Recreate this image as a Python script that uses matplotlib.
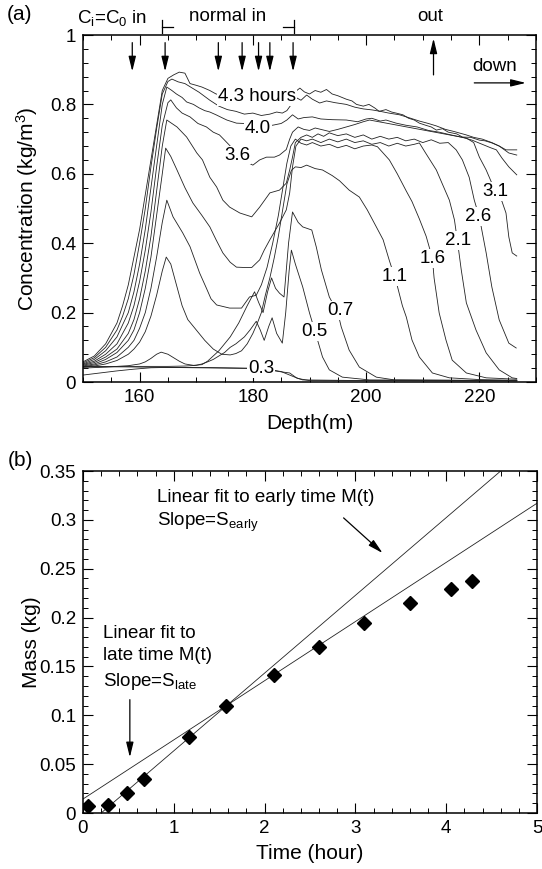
import numpy as np
import matplotlib
matplotlib.use("Agg")
import matplotlib.pyplot as plt
from matplotlib.ticker import MultipleLocator, FuncFormatter

plt.rcParams['font.family'] = ['Liberation Sans', 'DejaVu Sans']
plt.rcParams['mathtext.fontset'] = 'custom'
plt.rcParams['mathtext.rm'] = 'Liberation Sans'
plt.rcParams['mathtext.it'] = 'Liberation Sans:italic'

# ---------------- Panel (a): concentration profiles (depth, conc) ----------------
prof_43 = [(150,0.058),(152,0.075),(154,0.11),(156,0.17),(157,0.22),(158,0.28),(159,0.36),(160,0.44),
           (161,0.54),(162,0.64),(163,0.74),(164,0.84),(165,0.875),(166,0.885),(167,0.893),(168,0.89),
           (168.9,0.86),(170,0.855),(171,0.85),(172.4,0.84),(173.5,0.83),(175,0.825),(177,0.82),
           (179,0.815),(181,0.818),(183,0.815),(185,0.82),(187,0.83),(188.3,0.847),(189.1,0.836),
           (190,0.83),(191,0.84),(192,0.835),(193,0.843),(194,0.83),(195,0.825),(196.5,0.815),
           (197.5,0.81),(198.3,0.80),(199.5,0.795),(200.5,0.80),(201.5,0.79),(202.3,0.78),(203.5,0.785),
           (204.5,0.778),(205.3,0.775),(206.5,0.77),(207.5,0.76),(208.5,0.755),(209.4,0.746),(210.5,0.74),
           (211.5,0.735),(212.4,0.726),(213.5,0.73),(214.5,0.72),(216,0.715),(217,0.706),(218.5,0.705),
           (220,0.697),(221,0.695),(222.2,0.689),(223.5,0.68),(224.7,0.669),(226.6,0.669)]
prof_40 = [(150,0.055),(152,0.07),(154,0.1),(156,0.15),(157,0.19),(158,0.24),(159,0.31),(160,0.4),
           (161,0.5),(162,0.62),(163,0.73),(164,0.83),(165,0.866),(165.7,0.873),(166.8,0.865),(168,0.86),
           (169,0.85),(170.5,0.835),(172.4,0.812),(174,0.795),(175.5,0.785),(177,0.78),(178.5,0.772),
           (180,0.775),(181.5,0.768),(183,0.772),(184.2,0.778),(185.2,0.775),(186,0.782),(186.8,0.80),
           (187.6,0.82),(188.5,0.812),(189.5,0.827),(190.5,0.815),(191.8,0.804),(193,0.81),(194.5,0.805),
           (196.5,0.80),(198,0.792),(199.5,0.787),(201.1,0.784),(202.5,0.78),(204,0.775),(205.9,0.77),
           (207.5,0.762),(209.4,0.752),(211,0.745),(212.4,0.738),(214,0.728),(215.5,0.722),(217.7,0.712),
           (219,0.705),(220.5,0.70),(222.2,0.69),(223.5,0.68),(225.2,0.66),(226.6,0.654)]
prof_36 = [(150,0.052),(152,0.065),(154,0.09),(156,0.13),(158,0.2),(159,0.26),(160,0.34),(161,0.44),
           (162,0.56),(163,0.68),(164,0.8),(164.8,0.85),(165.7,0.84),(166.5,0.83),(167.5,0.82),
           (168.3,0.807),(169.5,0.8),(170.5,0.79),(171.5,0.782),(172.4,0.778),(173.5,0.77),(174.5,0.762),
           (175.4,0.755),(177.1,0.746),(178.5,0.745),(180,0.74),(181.5,0.738),(183.5,0.74),(185,0.745),
           (186,0.755),(187,0.77),(188,0.758),(189,0.762),(190.5,0.764),(192,0.758),(194,0.756),
           (196.5,0.755),(198.5,0.75),(200,0.758),(201,0.76),(202.5,0.752),(203.5,0.755),(205.3,0.746),
           (207,0.74),(209,0.735),(211,0.725),(212.9,0.72),(215,0.712),(217,0.705),(218.7,0.697),
           (220.5,0.685),(222,0.675),(223,0.669),(224,0.645),(225.2,0.62),(226.6,0.597)]
prof_31 = [(150,0.05),(152,0.06),(154,0.08),(156,0.11),(158,0.17),(159,0.22),(160,0.29),(161,0.38),
           (162,0.49),(163,0.62),(164,0.74),(165,0.805),(165.5,0.813),(166.5,0.79),(167.5,0.775),
           (168.9,0.764),(170.3,0.745),(171.8,0.735),(173,0.72),(174.1,0.712),(175,0.697),(176,0.68),
           (177,0.66),(178,0.645),(179.4,0.63),(180,0.625),(181.2,0.64),(182.4,0.648),(183.8,0.648),
           (184.7,0.654),(185.9,0.67),(186.5,0.70),(187,0.72),(188,0.735),(189,0.728),(190,0.725),
           (191,0.732),(192,0.728),(193.5,0.722),(195,0.728),(196.5,0.735),(198,0.742),(199.5,0.75),
           (200.6,0.755),(217.7,0.703),(219,0.69),(220,0.648),(221.2,0.611),(222.2,0.573),(223,0.548),
           (224,0.52),(224.7,0.487),(225.2,0.418),(225.8,0.372),(226.6,0.363)]
prof_26 = [(150,0.048),(152,0.056),(154,0.072),(156,0.095),(158,0.14),(159,0.18),(160,0.24),(161,0.32),
           (162,0.42),(163,0.55),(164,0.68),(164.8,0.755),(166.6,0.735),(168.3,0.706),(170.1,0.66),
           (171.1,0.64),(172.4,0.59),(173.6,0.562),(174.7,0.524),(175.9,0.504),(177.7,0.487),
           (179.8,0.476),(181.2,0.504),(183,0.545),(184.7,0.553),(185.9,0.573),(186.5,0.611),(187,0.648),
           (187.5,0.69),(188.5,0.705),(189.5,0.712),(190.5,0.705),(191.5,0.715),(192.5,0.708),
           (193.5,0.718),(195,0.71),(196.5,0.715),(198,0.705),(199.5,0.712),(201,0.70),(202.5,0.708),
           (204,0.70),(205.5,0.705),(207,0.695),(208.5,0.70),(210,0.69),(211.5,0.698),(213,0.688),
           (214.5,0.69),(215.9,0.669),(217,0.64),(218.2,0.59),(219.1,0.524),(220,0.475),(221.2,0.372),
           (222.2,0.274),(223.5,0.179),(225.2,0.112),(226.5,0.098)]
prof_21 = [(150,0.046),(152,0.052),(154,0.065),(156,0.085),(158,0.12),(159,0.15),(160,0.2),(161,0.27),
           (162,0.36),(163,0.48),(164,0.6),(164.6,0.674),(165.5,0.65),(166.6,0.611),(168,0.56),
           (169.4,0.516),(171,0.48),(172.4,0.447),(173.5,0.41),(174.7,0.372),(176,0.345),(177.1,0.331),
           (178.5,0.33),(179.8,0.33),(181.2,0.352),(182,0.38),(183,0.41),(184.7,0.458),(185.9,0.496),
           (186.5,0.545),(187,0.62),(187.6,0.68),(188.5,0.70),(189.5,0.695),(190.5,0.70),(192,0.69),
           (193.5,0.70),(195,0.692),(196.5,0.70),(198,0.69),(199.5,0.695),(201,0.685),(202.5,0.69),
           (204,0.68),(205.5,0.688),(207,0.68),(208.5,0.685),(209.4,0.689),(210.5,0.66),(212.4,0.611),
           (213.4,0.573),(214.7,0.524),(215.6,0.467),(216.1,0.409),(216.8,0.323),(217.7,0.228),
           (219.4,0.15),(221.2,0.084),(223.5,0.035),(225.8,0.012),(226.6,0.01)]
prof_16 = [(150,0.044),(152,0.049),(154,0.058),(156,0.072),(158,0.1),(159,0.12),(160,0.155),(161,0.2),
           (162,0.27),(163,0.36),(164,0.46),(164.8,0.524),(165.9,0.476),(167.6,0.43),(168.9,0.39),
           (170.6,0.314),(171.8,0.27),(172.6,0.24),(173.6,0.222),(175.9,0.213),(178,0.213),(179.4,0.245),
           (180.6,0.25),(181.5,0.28),(182.5,0.33),(183.5,0.4),(184.5,0.48),(185.3,0.56),(186,0.63),
           (186.7,0.68),(187.5,0.70),(188.5,0.688),(189.5,0.683),(190.5,0.69),(192,0.68),(193.5,0.685),
           (195,0.675),(196.5,0.682),(198,0.672),(199.5,0.68),(201,0.683),(202,0.678),(203,0.66),
           (204.1,0.64),(205.5,0.6),(207.1,0.55),(208.1,0.52),(209.4,0.47),(210.6,0.42),(211.7,0.357),
           (212,0.3),(212.9,0.199),(214.1,0.121),(215.2,0.063),(217.7,0.026),(221.2,0.012),(226.6,0.008)]
prof_11 = [(150,0.042),(152,0.046),(154,0.052),(156,0.062),(158,0.08),(159,0.095),(160,0.115),(161,0.145),
           (162,0.19),(163,0.25),(164,0.32),(164.7,0.36),(165.5,0.34),(166.5,0.28),(167.5,0.22),
           (168.5,0.18),(170,0.15),(171.5,0.12),(173,0.095),(174.5,0.08),(176,0.078),(177,0.082),
           (178,0.09),(179,0.11),(180,0.14),(180.8,0.17),(181.5,0.2),(182.2,0.25),(183,0.3),(183.8,0.36),
           (184.5,0.42),(185.3,0.5),(186,0.57),(186.8,0.61),(187.5,0.62),(188.5,0.618),(189.5,0.625),
           (191,0.615),(192.3,0.611),(194,0.595),(195.3,0.58),(197,0.553),(198.8,0.533),(200.2,0.496),
           (201.8,0.447),(203,0.41),(204.1,0.35),(205.3,0.29),(206.4,0.22),(207.1,0.187),(208.1,0.121),
           (209.4,0.072),(211.7,0.026),(214.7,0.012),(220,0.007),(226.6,0.005)]
prof_07 = [(150,0.04),(154,0.043),(158,0.047),(160,0.052),(161,0.058),(162,0.068),(163,0.08),(163.8,0.086),
           (165,0.08),(166,0.07),(167,0.06),(168,0.052),(169.5,0.048),(171,0.05),(172,0.06),(173,0.075),
           (174,0.09),(175,0.11),(176,0.13),(177.5,0.17),(179,0.22),(180.3,0.26),(181,0.23),(181.8,0.2),
           (182.6,0.26),(183.3,0.3),(184,0.27),(184.7,0.256),(185.5,0.245),(186.3,0.40),(187,0.49),
           (188,0.46),(188.8,0.447),(190.4,0.438),(191.2,0.389),(192.1,0.323),(193.5,0.245),(195,0.2),
           (195.6,0.159),(197,0.092),(198.8,0.043),(201.8,0.014),(205,0.006),(226.6,0.004)]
prof_05 = [(150,0.044),(155,0.044),(160,0.045),(165,0.045),(168,0.046),(170,0.048),(171,0.052),(172,0.058),
           (173,0.065),(174,0.075),(175,0.085),(176,0.1),(177,0.11),(178.5,0.13),(179.5,0.15),
           (180.6,0.175),(181.3,0.15),(182,0.12),(182.8,0.16),(183.4,0.185),(184.2,0.14),(185.2,0.112),
           (185.8,0.2),(186.4,0.32),(186.8,0.38),(187.5,0.34),(188.8,0.274),(190,0.199),(190.9,0.15),
           (192.3,0.072),(193.5,0.035),(195.8,0.014),(200.6,0.006),(226.6,0.004)]
prof_03 = [(150,0.045),(155,0.044),(160,0.043),(165,0.042),(170,0.041),(175,0.04),(179,0.039),
           (181.5,0.038),(184.7,0.03),(186.5,0.026),(187.7,0.012),(188.8,0.006),(200,0.004),(226.6,0.004)]
prof_00 = [(150,0.02),(153,0.026),(156,0.032),(159,0.037),(162,0.041),(165,0.042),(170,0.042),(175,0.041),
           (179,0.04),(183,0.036),(185,0.03),(186.5,0.02),(188,0.01),(190,0.004),(226.6,0.003)]
profiles = [prof_43, prof_40, prof_36, prof_31, prof_26, prof_21, prof_16, prof_11,
            prof_07, prof_05, prof_03, prof_00]

# curve labels: (text, depth, conc)
curve_labels = [("4.3 hours", 180.75, 0.822), ("4.0", 180.9, 0.731), ("3.6", 177.2, 0.654),
                ("3.1", 222.8, 0.548), ("2.6", 219.8, 0.476), ("2.1", 216.2, 0.409),
                ("1.6", 211.8, 0.357), ("1.1", 205.1, 0.303), ("0.7", 195.5, 0.207),
                ("0.5", 190.9, 0.145), ("0.3", 181.5, 0.039)]
inlet_depths = [158.7, 164.5, 173.9, 178.1, 181.0, 183.0, 187.1]
outlet_depth = 211.9

# ---------------- Panel (b): mass vs time ----------------
t_hours = [0.05, 0.27, 0.48, 0.67, 1.17, 1.58, 2.1, 2.6, 3.1, 3.6, 4.05, 4.28]
mass_kg = [0.007, 0.008, 0.020, 0.035, 0.078, 0.109, 0.141, 0.170, 0.194, 0.215, 0.229, 0.237]
early_fit_t = [0.2, 4.6]
early_fit_m = [0.0, 0.35]
late_fit_t = [0.0, 5.0]
late_fit_m = [0.0143, 0.317]

W, H = 542, 869
fig = plt.figure(figsize=(W/100, H/100), dpi=100)
ax1 = fig.add_axes([83/W, 1-382/H, 453/W, 347/H])
ax2 = fig.add_axes([83/W, 1-813/H, 454/W, 342/H])

fmt = FuncFormatter(lambda v, p: '%g' % round(v, 3))
for ax in (ax1, ax2):
    ax.tick_params(which='both', direction='in', top=True, right=True, labelsize=13.5, pad=5)
    ax.tick_params(which='major', length=7, width=0.8)
    ax.tick_params(which='minor', length=3.5, width=0.7)
    for s in ax.spines.values():
        s.set_linewidth(1.1)
    ax.yaxis.set_major_formatter(fmt)
    ax.xaxis.set_major_formatter(fmt)

# panel a
for prof in profiles:
    arr = np.array(prof)
    ax1.plot(arr[:, 0], arr[:, 1], color='#222222', lw=0.6, zorder=2)
for txt, x, y in curve_labels:
    ax1.text(x, y, txt, ha='center', va='center', fontsize=13.5, zorder=4,
             bbox=dict(boxstyle='square,pad=0.05', fc='white', ec='none'))
ax1.set_xlim(150, 230)
ax1.set_ylim(0, 1)
ax1.xaxis.set_major_locator(MultipleLocator(20))
ax1.xaxis.set_minor_locator(MultipleLocator(5))
ax1.yaxis.set_major_locator(MultipleLocator(0.2))
ax1.yaxis.set_minor_locator(MultipleLocator(0.04))
ax1.set_xlabel('Depth(m)', fontsize=15)
ax1.xaxis.set_label_coords(0.5, -0.092)
ax1.set_ylabel('Concentration (kg/m$^3$)', fontsize=15)
ax1.yaxis.set_label_coords(-0.095, 0.5)

arrow_style = dict(arrowstyle='-|>,head_length=0.9,head_width=0.22', color='k', lw=0.9,
                   shrinkA=0, shrinkB=0)
for d in inlet_depths:
    ax1.annotate('', xy=(d, 0.895), xytext=(d, 0.978), arrowprops=arrow_style)
ax1.annotate('', xy=(outlet_depth, 0.99), xytext=(outlet_depth, 0.885), arrowprops=arrow_style)
ax1.annotate('', xy=(228.2, 0.862), xytext=(219.1, 0.862), arrowprops=arrow_style)
ax1.text(222.7, 0.908, 'down', ha='center', va='center', fontsize=13.5)
ax1.text(155.1, 1.05, r'C$_{\rm i}$=C$_{\rm 0}$ in', ha='center', va='center', fontsize=13.5, clip_on=False)
ax1.text(175.5, 1.052, 'normal in', ha='center', va='center', fontsize=13.5, clip_on=False)
ax1.text(211.3, 1.052, 'out', ha='center', va='center', fontsize=13.5, clip_on=False)
# bracket marks for the normal-injection interval
ax1.plot([164.0, 164.0], [1.005, 1.043], color='k', lw=0.9, clip_on=False)
ax1.plot([164.0, 165.9], [1.024, 1.024], color='k', lw=0.9, clip_on=False)
ax1.plot([187.2, 187.2], [1.005, 1.043], color='k', lw=0.9, clip_on=False)
ax1.plot([185.4, 187.2], [1.024, 1.024], color='k', lw=0.9, clip_on=False)

# panel b
ax2.plot(early_fit_t, early_fit_m, color='#222222', lw=0.6)
ax2.plot(late_fit_t, late_fit_m, color='#222222', lw=0.6)
ax2.plot(t_hours, mass_kg, linestyle='none', marker='D', color='k', markersize=7.5)
ax2.set_xlim(0, 5)
ax2.set_ylim(0, 0.35)
ax2.xaxis.set_major_locator(MultipleLocator(1))
ax2.xaxis.set_minor_locator(MultipleLocator(0.2))
ax2.yaxis.set_major_locator(MultipleLocator(0.05))
ax2.yaxis.set_minor_locator(MultipleLocator(0.01))
ax2.set_xlabel('Time (hour)', fontsize=15)
ax2.xaxis.set_label_coords(0.5, -0.09)
ax2.set_ylabel('Mass (kg)', fontsize=15)
ax2.yaxis.set_label_coords(-0.092, 0.5)

ax2.text(0.81, 0.323, 'Linear fit to early time M(t)', ha='left', va='center', fontsize=13.5)
ax2.text(0.81, 0.297, r'Slope=S$_{\rm early}$', ha='left', va='center', fontsize=13.5)
ax2.annotate('', xy=(3.30, 0.266), xytext=(2.87, 0.302), arrowprops=arrow_style)
ax2.text(0.22, 0.184, 'Linear fit to', ha='left', va='center', fontsize=13.5)
ax2.text(0.22, 0.161, 'late time M(t)', ha='left', va='center', fontsize=13.5)
ax2.text(0.22, 0.135, r'Slope=S$_{\rm late}$', ha='left', va='center', fontsize=13.5)
ax2.annotate('', xy=(0.516, 0.057), xytext=(0.516, 0.116), arrowprops=arrow_style)

fig.text(20/W, 1-15/H, '(a)', ha='center', va='center', fontsize=15)
fig.text(20/W, 1-461/H, '(b)', ha='center', va='center', fontsize=15)

fig.savefig('out.png', dpi=100)
